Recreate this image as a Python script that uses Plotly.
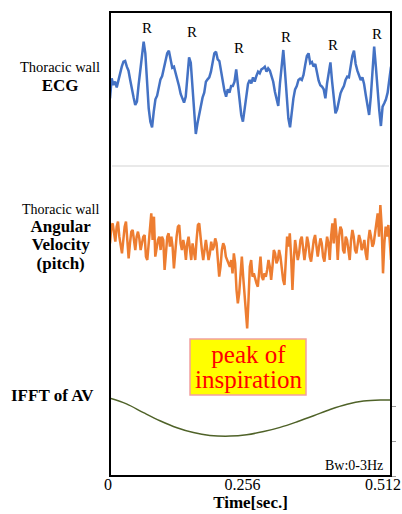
import numpy as np
import plotly.graph_objects as go

# ---------------- data ----------------
DURATION = 0.512  # seconds shown on the time axis

# Thoracic wall ECG (arbitrary units), uniformly sampled over DURATION
ecg = [
    -0.45, 0.15, -0.05, 0.05, -0.12, 0.10, 0.25, 0.50, 0.65, 0.67,
    0.50, 0.38, 0.10, -0.22, -0.42, -0.65, -0.55, -0.05, 0.40, 0.85,
    1.25, 0.90, -0.05, -0.75, -1.15, -1.32, -0.85, -0.48, -0.37, -0.15,
    0.12, 0.22, 0.45, 0.70, 0.90, 0.98, 0.70, 0.47, 0.50, 0.32,
    0.15, -0.08, -0.32, -0.48, -0.58, -0.40, 0.20, 0.78, 0.62, -0.12,
    -0.80, -1.52, -1.20, -0.95, -0.65, -0.43, -0.28, 0.05, 0.12, 0.18,
    0.35, 0.60, 0.90, 0.95, 0.72, 0.67, 0.38, 0.00, -0.22, -0.40,
    -0.18, -0.28, -0.08, -0.08, 0.05, 0.42, -0.08, -0.55, -0.95, -1.15,
    -0.75, -0.35, -0.02, 0.10, 0.00, 0.18, 0.05, 0.22, 0.35, 0.30,
    0.42, 0.45, 0.50, 0.35, 0.45, 0.38, 0.18, 0.05, -0.25, -0.52,
    -0.68, 0.00, 0.58, 1.00, 0.35, -0.45, -1.05, -1.32, -0.85, -0.45,
    -0.18, -0.08, 0.10, 0.14, 0.10, 0.25, 0.55, 0.82, 0.90, 0.60,
    0.64, 0.50, 0.58, 0.28, 0.08, -0.06, -0.10, -0.18, -0.45, 0.00,
    0.35, 0.63, 0.05, -0.55, -0.90, -0.78, -0.48, -0.30, -0.18, -0.08,
    0.10, 0.20, 0.18, 0.52, 0.82, 0.98, 0.58, 0.38, 0.20, 0.10,
    0.18, -0.02, -0.35, -0.72, -0.95, -0.40, 0.35, 1.10, 0.50, -0.20,
    -0.80, -1.28, -0.70, -0.60, -0.48, -0.28, 0.20, 0.50,
]

# sample indices of the R waves in the ECG record
r_peak_idx = [20, 47, 75, 103, 131, 157]

# Thoracic wall angular velocity, pitch (arbitrary units), uniformly sampled
av = [
    -0.10, 0.40, 0.50, 0.25, -0.05, 0.40, 0.55, 0.10,
    -0.20, -0.40, 0.00, 0.40, 0.55, -0.20, -0.55, -0.10, 0.25, 0.30,
    0.00, -0.30, 0.10, 0.25, 0.05, -0.30, -0.10, 0.10, 0.15, -0.50,
    -0.60, -0.10, 0.40, 0.80,
    0.00, 0.70, -0.50,
    -0.20, 0.00, 0.10, -0.30, 0.10, 0.00, -0.90, -0.30, 0.10, 0.20,
    -0.20, 0.10, -0.20, -0.85, -0.30, 0.10, 0.40, 0.45, -0.10, -0.30,
    0.00, -0.20, -0.60, -0.10, 0.10, -0.30, -0.60, -0.10, -0.40, -0.60,
    0.00, 0.45, 0.50, 0.00, -0.30, -0.60, -0.25, 0.00, -0.30, -0.60,
    -0.40, -0.05, -0.30, -0.20, 0.05, -0.10, -0.60, -1.10, -0.80, -0.30,
    -0.10, -0.20, -0.50, -0.60, -0.70, -0.80, -0.60, -1.00, -0.40, -0.70,
    -1.50, -1.90, -1.60, -1.00, -0.50, -1.10, -1.60, -2.20,
    -2.65, -1.80,
    -0.80, -0.60, -1.10, -1.00, -1.20, -1.30, -1.40, -0.90, -0.50, -1.10,
    -1.20, -1.00, -1.10, -0.90, -0.60, -0.80, -1.20, -0.80, -0.30, -0.40,
    -0.70, -0.60, -0.30, -0.50, -0.90, -1.20, -1.35, -0.60, 0.10, -0.20,
    0.20, -0.50, -1.50, -0.60, 0.00, -0.30, -0.60, -0.40, 0.00, 0.10,
    -0.20, -0.60, -0.30, 0.10, -0.10, -0.50, -0.65, -0.30, 0.00, 0.15,
    -0.20, -0.50, -0.20, 0.05, -0.10, -0.50, -0.65, -0.20, 0.10, -0.10,
    -0.60, 0.10, 0.50, -0.10, 0.65, 0.20, -0.60, 0.10, 0.40, 0.30,
    -0.30, -0.40, 0.10, 0.00, -0.30, -0.60, 0.00, 0.30, 0.10, -0.30,
    -0.40, -0.10, 0.15, 0.00, -0.30, -0.20, 0.00, -0.40, -0.60, 0.00,
    0.30, 0.10, -0.20, -0.10, 0.20, 0.40, 0.80, 0.10, 1.05, 0.40,
    -1.00, -0.10, 0.40, 0.10, 0.45, 0.00,
    -0.60,
]

# low-pass (0-3 Hz) inverse FFT of the angular velocity
ifft_t = [0.0, 0.030, 0.061, 0.091, 0.122, 0.152, 0.182, 0.219, 0.249,
          0.280, 0.310, 0.341, 0.371, 0.401, 0.432, 0.462, 0.493, 0.512]
ifft_v = [1.22, 1.06, 0.81, 0.58, 0.38, 0.24, 0.16, 0.14, 0.18,
          0.27, 0.39, 0.55, 0.72, 0.90, 1.05, 1.14, 1.17, 1.17]

time_ticks = [0, 0.256, 0.512]
time_tick_text = ["\u00a0\u00a0\u00a00", "0.256", "0.512"]

ecg_t = np.linspace(0, DURATION, len(ecg))
av_t = np.linspace(0, DURATION, len(av))

# ---------------- layout helpers ----------------
FIG_W, FIG_H = 402, 514
PLOT_L, PLOT_T, PLOT_R, PLOT_B = 110, 12, 391, 476
PLOT_W, PLOT_H = PLOT_R - PLOT_L, PLOT_B - PLOT_T


def paper_x(px):
    return (px - PLOT_L) / PLOT_W


def paper_y(py):
    return (PLOT_B - py) / PLOT_H


SPLIT_1 = paper_y(166)   # ECG / angular velocity boundary
SPLIT_2 = paper_y(350)   # angular velocity / IFFT boundary

SERIF = "Liberation Serif, Times New Roman, serif"

fig = go.Figure()
fig.add_trace(go.Scatter(x=ecg_t, y=ecg, mode="lines", yaxis="y",
                         line=dict(color="#4472C4", width=2.5), hoverinfo="skip"))
fig.add_trace(go.Scatter(x=av_t, y=av, mode="lines", yaxis="y2",
                         line=dict(color="#ED7D31", width=2.5), hoverinfo="skip"))
fig.add_trace(go.Scatter(x=ifft_t, y=ifft_v, mode="lines", yaxis="y3",
                         line=dict(color="#4F6228", width=1.5, shape="spline"),
                         hoverinfo="skip"))

annotations = []


def label(text, px, py, size, color="black"):
    annotations.append(dict(
        text=text, xref="paper", yref="paper", x=paper_x(px), y=paper_y(py),
        xanchor="center", yanchor="middle", showarrow=False, borderpad=0,
        font=dict(family=SERIF, size=size, color=color)))


def big(text, size):
    return f'<span style="font-size:{size}px">{text}</span>'


# panel titles on the left
label("Thoracic wall<br>" + big("<b>ECG</b>", 17), 60, 77, 14.5)
label("Thoracic wall<br>" + big("<b>Angular</b>", 17) + "<br>"
      + big("<b>Velocity</b>", 17) + "<br>" + big("<b>(pitch)</b>", 17),
      60, 238, 14)
label("<b>IFFT of AV</b>", 52.5, 395, 17)
label("Bw:0-3Hz", 354, 465, 14)

# "peak of inspiration" callout
label(big("peak of", 25) + "<br>" + big("inspiration", 25), 248, 367, 19.2,
      color="#FF0000")

# R-wave markers above each R peak
R_LABEL_Y = [1.67, 1.55, 1.05, 1.40, 1.15, 1.47]
for idx, ry in zip(r_peak_idx, R_LABEL_Y):
    annotations.append(dict(
        text="R", xref="x", yref="y", x=ecg_t[idx], y=ry, xshift=3,
        xanchor="center", yanchor="middle", showarrow=False,
        font=dict(family=SERIF, size=15, color="black")))

shapes = [
    # separator between the ECG and angular-velocity traces
    dict(type="line", xref="paper", yref="paper", x0=0.007, x1=0.993,
         y0=SPLIT_1, y1=SPLIT_1, line=dict(color="#E2E2E2", width=1.5)),
    # callout box
    dict(type="rect", xref="paper", yref="paper",
         x0=paper_x(190), x1=paper_x(306), y0=paper_y(395), y1=paper_y(339),
         fillcolor="#FFFF00", line=dict(color="#F2A0A0", width=1.5), layer="below"),
    # outer frame
    dict(type="rect", xref="paper", yref="paper", x0=0, x1=1, y0=0, y1=1,
         line=dict(color="black", width=2), layer="above"),
]

fig.update_layout(
    width=FIG_W, height=FIG_H,
    margin=dict(l=PLOT_L, r=FIG_W - PLOT_R, t=PLOT_T, b=FIG_H - PLOT_B, autoexpand=False),
    paper_bgcolor="white", plot_bgcolor="white",
    showlegend=False,
    font=dict(family=SERIF, color="black"),
    xaxis=dict(range=[0, DURATION], domain=[0, 1], anchor="y3",
               tickvals=time_ticks, ticktext=time_tick_text, ticks="",
               ticklabelshift=-8, ticklabelstandoff=-3, ticklabeloverflow="allow",
               showgrid=False, zeroline=False, showline=False,
               tickfont=dict(family=SERIF, size=16, color="black"),
               title=dict(text="<b>Time[sec.]</b>", standoff=2,
                          font=dict(family=SERIF, size=17, color="black"))),
    yaxis=dict(domain=[SPLIT_1, 1], range=[-2.48, 2.14], visible=False,
               anchor="x", fixedrange=True),
    yaxis2=dict(domain=[SPLIT_2, SPLIT_1], range=[-3.30, 2.22], visible=False,
                anchor="x", fixedrange=True),
    yaxis3=dict(domain=[0, SPLIT_2], range=[-1.0, 2.6], anchor="x", side="right",
                tickvals=[-1, 0, 1], showticklabels=False, ticks="outside",
                ticklen=4, tickwidth=1, tickcolor="#9A9A9A",
                showgrid=False, zeroline=False, showline=False, fixedrange=True),
    annotations=annotations,
    shapes=shapes,
)

fig.write_html("out.html")
